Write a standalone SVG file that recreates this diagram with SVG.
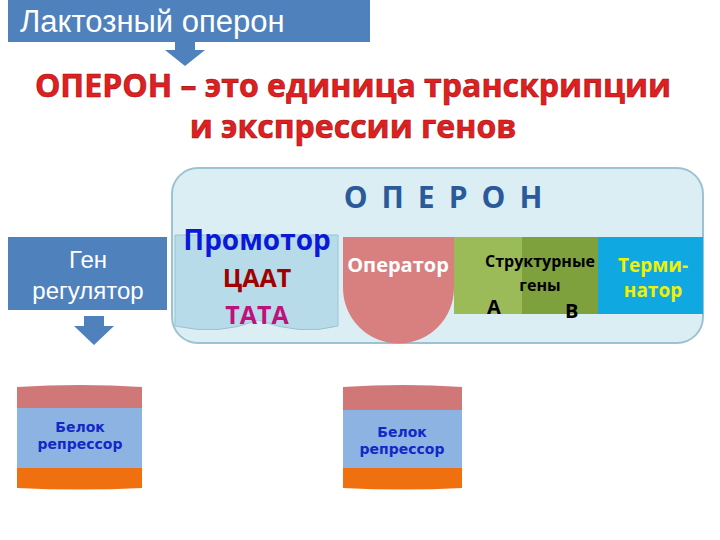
<svg xmlns="http://www.w3.org/2000/svg" width="720" height="540" viewBox="0 0 720 540">
<style>
.s{font-family:"Open Sans","DejaVu Sans",sans-serif;font-weight:bold}
.w{font-family:"Liberation Sans",sans-serif;fill:#fff}
.bl{fill:#4F81BD}
.pt{font-family:"DejaVu Sans",sans-serif;font-weight:bold;fill:#1428c8;font-size:14px}
</style>
<rect width="720" height="540" fill="#fff"/>
<g id="title"><rect class="bl" x="8" y="0" width="362" height="42"/><text class="w" x="20" y="32" font-size="31">Лактозный оперон</text>
<polygon class="bl" points="175,42 195,42 195,50 205,50 185,66 165,50 175,50"/></g>
<g id="heading" class="s" fill="#e02020" stroke="#a01010" stroke-width="0.6" text-anchor="middle">
<text x="353" y="97" font-size="32">ОПЕРОН – это единица транскрипции</text>
<text x="353" y="138" font-size="32">и экспрессии генов</text></g>
<g id="operon">
<rect x="172" y="168" width="531" height="175" rx="26" fill="#dbeef4" stroke="#9cc3d3" stroke-width="2"/>
<text class="s" x="450" y="208" font-size="30" fill="#2a5a9a" text-anchor="middle" letter-spacing="14">ОПЕРОН</text>
<path d="M175,235 H338 V326 Q300,336 258,320 Q220,336 175,326 Z" fill="#b7dbe8" stroke="#9cc3d3"/>
<text class="s" x="257" y="250" font-size="28" fill="#0a18d8" text-anchor="middle">Промотор</text>
<text class="s" x="257" y="287" font-size="25" fill="#a00000" text-anchor="middle">ЦААТ</text>
<text class="s" x="257" y="324" font-size="25" fill="#c0107a" text-anchor="middle">ТАТА</text>
<path d="M343,237 H454 V288 A55.5,55.5 0 0 1 343,288 Z" fill="#d88080"/>
<text class="s" x="398" y="272" font-size="20" fill="#fff" text-anchor="middle">Оператор</text>
<rect x="454" y="237" width="68" height="77" fill="#9bbb59"/>
<rect x="522" y="237" width="76" height="77" fill="#7ea13e"/>
<rect x="598" y="237" width="105" height="77" fill="#10a8e0"/>
<text class="s" x="540" y="267" font-size="16" text-anchor="middle">Структурные</text>
<text class="s" x="540" y="291" font-size="16" text-anchor="middle">гены</text>
<text class="s" x="487" y="314" font-size="20">А</text>
<text class="s" x="565" y="318" font-size="20">В</text>
<text class="s" x="653" y="272" font-size="19" fill="#f0f000" text-anchor="middle">Терми-</text>
<text class="s" x="653" y="297" font-size="19" fill="#f0f000" text-anchor="middle">натор</text>
</g>
<g id="regulator"><rect class="bl" x="8" y="237" width="159" height="73"/>
<text class="w" x="88" y="268" font-size="24" text-anchor="middle">Ген</text>
<text class="w" x="88" y="299" font-size="24" text-anchor="middle">регулятор</text>
<polygon class="bl" points="84,316 104,316 104,326 114,326 94,345 74,326 84,326"/></g>
<g id="protein1"><path d="M17,387 Q80,383 142,387 V408 H17 Z" fill="#d07878"/><rect x="17" y="408" width="125" height="60" fill="#8db3e2"/><path d="M17,468 H142 V488 Q80,491 17,488 Z" fill="#f07010"/>
<text class="pt" x="80" y="432" text-anchor="middle">Белок</text><text class="pt" x="80" y="449" text-anchor="middle">репрессор</text></g>
<g id="protein2"><path d="M343,387 Q403,383 462,387 V410 H343 Z" fill="#d07878"/><rect x="343" y="410" width="119" height="58" fill="#8db3e2"/><path d="M343,468 H462 V488 Q403,491 343,488 Z" fill="#f07010"/>
<text class="pt" x="402" y="437" text-anchor="middle">Белок</text><text class="pt" x="402" y="454" text-anchor="middle">репрессор</text></g>
<g id="connectors"/>
</svg>
